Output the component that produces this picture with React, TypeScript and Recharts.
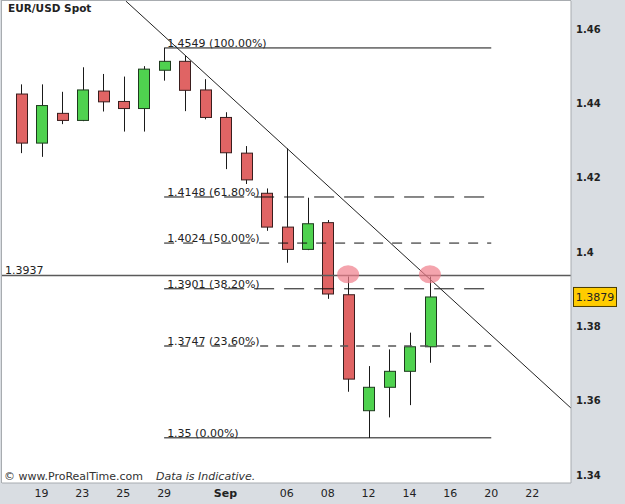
import React from "react";
import {
  ComposedChart,
  Bar,
  XAxis,
  YAxis,
  CartesianGrid,
  ReferenceLine,
  ReferenceDot,
} from "recharts";

// trading days, Aug 18 -> Sep 15
const days = ["18", "19", "22", "23", "24", "25", "26", "29", "30", "31", "Sep", "02", "05", "06", "07", "08", "09", "12", "13", "14", "15"];
const opens = [1.4425, 1.4293, 1.4373, 1.4354, 1.4433, 1.4405, 1.4386, 1.4489, 1.4513, 1.4436, 1.4362, 1.4266, 1.4158, 1.4067, 1.4007, 1.4079, 1.3885, 1.3573, 1.3636, 1.3679, 1.3745];
const highs = [1.4451, 1.4451, 1.4431, 1.4497, 1.4479, 1.4472, 1.45, 1.4549, 1.4528, 1.4465, 1.4376, 1.4285, 1.4171, 1.4279, 1.4146, 1.4086, 1.3934, 1.3693, 1.3738, 1.3783, 1.3934];
const lows = [1.4266, 1.4256, 1.4344, 1.4352, 1.4378, 1.4324, 1.4324, 1.4461, 1.4379, 1.4357, 1.4223, 1.4183, 1.4057, 1.3971, 1.4005, 1.3874, 1.3624, 1.35, 1.3555, 1.3588, 1.3702];
const closes = [1.4293, 1.4394, 1.4354, 1.4436, 1.4404, 1.4386, 1.4492, 1.4513, 1.4435, 1.4362, 1.4267, 1.4194, 1.4067, 1.4007, 1.4076, 1.3887, 1.3658, 1.3636, 1.3679, 1.3745, 1.3879];

// x axis ticks (index -> label)
const tickIdx = [1, 3, 5, 7, 10, 13, 15, 17, 19, 21, 23, 25];
const tickLabels = ["19", "23", "25", "29", "Sep", "06", "08", "12", "14", "16", "20", "22"];
const yTicks = [1.34, 1.36, 1.38, 1.4, 1.42, 1.44, 1.46];

// fibonacci retracement
const fibValues = [1.4549, 1.4148, 1.4024, 1.3901, 1.3747, 1.35];
const fibLabels = ["1.4549 (100.00%)", "1.4148 (61.80%)", "1.4024 (50.00%)", "1.3901 (38.20%)", "1.3747 (23.60%)", "1.35 (0.00%)"];
const fibDash = ["", "20 10", "10 9", "20 10", "8 8", ""];
const fibFrom = 7;
const fibTo = 23;

const resistance = 1.3937;
const lastPrice = 1.3879;
const touches = [16, 20];
const touchValue = 1.394;

const xMin = -0.93;
const xMax = 26.9;
const yMin = 1.33785;
const yMax = 1.46753;
const trendStart = { x: 5.13, y: 1.4675 };
const trendEnd = { x: 26.9, y: 1.358 };

const data = days.map((d, i) => ({
  idx: i,
  day: d,
  open: opens[i],
  high: highs[i],
  low: lows[i],
  close: closes[i],
  range: [lows[i], highs[i]],
}));

const FONT = "'DejaVu Sans', Verdana, sans-serif";

function Candle(props: any) {
  const { x, y, width, height, payload } = props;
  const { open, close, high, low } = payload;
  const pix = (v: number) => y + ((high - v) / (high - low)) * height;
  const up = close >= open;
  const top = pix(Math.max(open, close));
  const bot = pix(Math.min(open, close));
  const cx = Math.round(x + width / 2) + 0.5;
  return (
    <g>
      <line x1={cx} x2={cx} y1={y} y2={y + height} stroke="#1a1a1a" strokeWidth={1} />
      <rect
        x={Math.round(x) + 0.5}
        y={top}
        width={Math.round(width)}
        height={Math.max(bot - top, 1)}
        fill={up ? "#4fd24f" : "#e06464"}
        stroke={up ? "#1e3a1e" : "#3a1e1e"}
        strokeWidth={1}
      />
    </g>
  );
}

function XTick(props: any) {
  const { x, y, payload } = props;
  const label = tickLabels[tickIdx.indexOf(payload.value)];
  return (
    <text
      x={x}
      y={y}
      dy="0.71em"
      textAnchor="middle"
      fontSize={11}
      fontFamily={FONT}
      fontWeight={label === "Sep" ? "bold" : "normal"}
      fill="#222"
    >
      {label}
    </text>
  );
}

export default function App() {
  return (
    <div
      style={{
        position: "absolute",
        left: 0,
        top: 0,
        width: 625,
        height: 504,
        background: "#d9dde2",
        fontFamily: FONT,
      }}
    >
      <ComposedChart
        width={625}
        height={504}
        data={data}
        margin={{ top: 1, right: 0, left: 2, bottom: 0 }}
      >
        <CartesianGrid fill="#ffffff" horizontal={false} vertical={false} />
        <XAxis
          dataKey="idx"
          type="number"
          domain={[xMin, xMax]}
          allowDataOverflow
          ticks={tickIdx}
          tick={<XTick />}
          tickLine={false}
          tickSize={0}
          tickMargin={6}
          height={21}
          axisLine={{ stroke: "#a8acb0" }}
          interval={0}
        />
        <YAxis
          orientation="right"
          type="number"
          domain={[yMin, yMax]}
          allowDataOverflow
          ticks={yTicks}
          tickFormatter={(v: number) => String(Number(v.toFixed(2)))}
          tick={{ fontSize: 10, fontWeight: "bold", fill: "#222", fontFamily: FONT }}
          tickLine={false}
          tickSize={0}
          tickMargin={5}
          width={54}
          axisLine={{ stroke: "#a8acb0" }}
        />
        <Bar dataKey="range" barSize={11} shape={<Candle />} isAnimationActive={false} />

        {fibValues.map((v, i) => (
          <ReferenceLine
            key={v}
            segment={[
              { x: fibFrom, y: v },
              { x: fibTo, y: v },
            ]}
            stroke={i === 4 ? "#555" : "#111"}
            strokeWidth={i === 4 ? 1.6 : 1}
            strokeDasharray={fibDash[i] || undefined}
            label={{
              value: fibLabels[i],
              position: "insideBottomLeft",
              offset: 1,
              dx: 2,
              fontSize: 11,
              fill: "#222",
              fontFamily: FONT,
            }}
          />
        ))}

        <ReferenceLine
          y={resistance}
          stroke="#5a5a5a"
          strokeWidth={1.5}
          label={{
            value: "1.3937",
            position: "insideBottomLeft",
            offset: 1,
            dx: 2,
            fontSize: 11,
            fill: "#222",
            fontFamily: FONT,
          }}
        />
        <ReferenceLine
          segment={[trendStart, trendEnd]}
          stroke="#222"
          strokeWidth={1}
          ifOverflow="visible"
        />
        {touches.map((t) => (
          <ReferenceDot
            key={t}
            x={t}
            y={touchValue}
            r={10}
            shape={(p: any) => (
              <ellipse cx={p.cx} cy={p.cy} rx={11} ry={9} fill="#f07d8a" fillOpacity={0.7} />
            )}
          />
        ))}
        <ReferenceDot
          x={xMax}
          y={lastPrice}
          r={1}
          ifOverflow="visible"
          shape={(p: any) => (
            <g>
              <rect x={p.cx + 2.5} y={p.cy - 9.5} width={43} height={19} fill="#ffcc00" stroke="#4a3c00" />
              <text
                x={p.cx + 24}
                y={p.cy}
                dy="0.35em"
                textAnchor="middle"
                fontSize={11}
                fontFamily={FONT}
                fill="#222"
              >
                {lastPrice.toFixed(4)}
              </text>
            </g>
          )}
        />
      </ComposedChart>

      <div
        style={{
          position: "absolute",
          left: 1,
          top: 0,
          width: 569,
          height: 482,
          borderLeft: "1px solid #a8acb0",
          borderTop: "1px solid #a8acb0",
          pointerEvents: "none",
        }}
      />
      <div
        style={{
          position: "absolute",
          left: 8,
          top: 2,
          fontSize: 10.5,
          fontWeight: "bold",
          color: "#222",
        }}
      >
        EUR/USD Spot
      </div>
      <div
        style={{
          position: "absolute",
          left: 4,
          top: 470,
          fontSize: 11,
          color: "#333",
          whiteSpace: "nowrap",
        }}
      >
        © www.ProRealTime.com
        <span style={{ fontStyle: "italic", marginLeft: 13 }}>Data is Indicative.</span>
      </div>
    </div>
  );
}
